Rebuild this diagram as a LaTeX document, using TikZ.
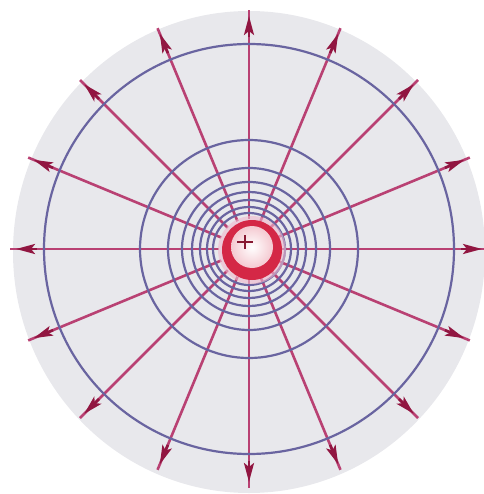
\documentclass[tikz,border=0pt]{standalone}
\usetikzlibrary{arrows.meta}
\definecolor{bgdisk}{RGB}{232,232,236}
\definecolor{fieldc}{RGB}{185,65,115}
\definecolor{equic}{RGB}{105,100,160}
\definecolor{arrowc}{RGB}{145,22,65}
\definecolor{chargec}{RGB}{212,40,70}
\definecolor{halo}{RGB}{240,185,205}
\definecolor{plusc}{RGB}{135,25,50}
\begin{document}
\begin{tikzpicture}[x=1pt,y=-1pt,
  fieldline/.style={line width=2.6pt,color=fieldc},
  equip/.style={line width=2.2pt,color=equic},
  tiparrow/.style={-{Stealth[length=19pt,width=10pt,inset=4pt]},line width=2.6pt,color=arrowc}]
\useasboundingbox (0,0) rectangle (483,494);
\fill[bgdisk] (249,252) ellipse [x radius=236pt, y radius=241pt];
\coordinate (c) at (249,249);
\foreach \a in {0,22.5,...,337.5} {
  \draw[fieldline,shift={(c)}] (\a:30) -- (\a:239);
}
\foreach \r in {205,109,81,67,57,49,42,36} {
  \draw[equip] (c) circle [radius=\r pt];
}
\foreach \a in {0,22.5,...,337.5} {
  \draw[tiparrow,shift={(c)}] (\a:212) -- (\a:233);
}
\fill[halo,opacity=0.6] (252,250) circle [radius=34pt];
\fill[chargec] (252,250) circle [radius=30pt];
\shade[inner color=white,outer color=white!75!chargec] (252,247) circle [radius=21pt];
\node[coordinate] (q) at (245,242) {};
\draw[plusc,line width=2.5pt] ([xshift=-8pt]q) -- ([xshift=8pt]q) ([yshift=-7pt]q) -- ([yshift=7pt]q);
\end{tikzpicture}
\end{document}
